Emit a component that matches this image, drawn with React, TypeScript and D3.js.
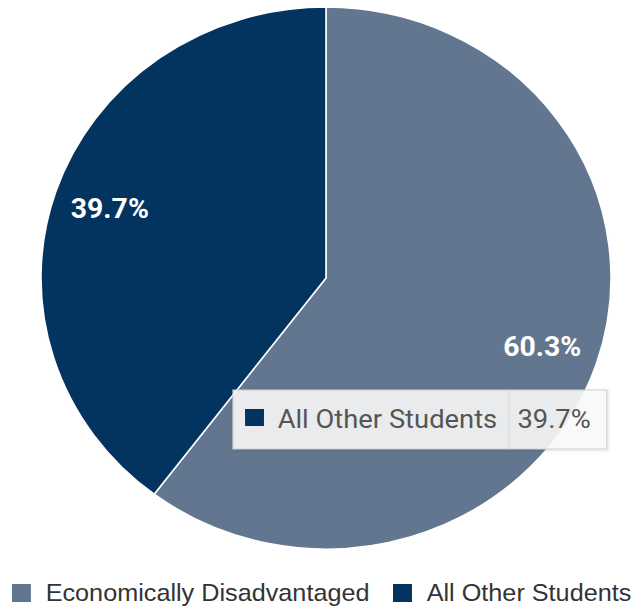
import React from "react";
import * as d3 from "d3";

const categories = ["Economically Disadvantaged", "All Other Students"];
const values = [60.3, 39.7];
const colors = ["#62778f", "#03335f"];
const tooltipIndex = 1;

const W = 633;
const H = 608;
const SX = 1.0517;
const cx = 326 / SX;
const cy = 278;
const R = 271;

export default function App() {
  const pie = d3.pie<number>().sort(null).value((d) => d)(values);
  const arc = d3.arc<d3.PieArcDatum<number>>().innerRadius(0).outerRadius(R);
  const labelArc = d3.arc<d3.PieArcDatum<number>>().innerRadius(R * 0.8).outerRadius(R * 0.8);
  const fmt = (v: number) => v.toFixed(1) + "%";

  const tt = { x: 221.5, y: 390, w: 355.5, h: 59, div: 484 };

  return (
    <svg width={W} height={H} style={{ position: "absolute", left: 0, top: 0 }}>
      <defs>
        <filter id="sh" x="-10%" y="-20%" width="120%" height="150%">
          <feDropShadow dx="1" dy="1" stdDeviation="1.5" floodColor="#000" floodOpacity="0.15" />
        </filter>
      </defs>
      <g transform={`scale(${SX},1)`}>
        <g transform={`translate(${cx},${cy})`}>
          {pie.map((d, i) => (
            <path key={i} d={arc(d) || ""} fill={colors[i]} stroke="#fff" strokeWidth={1.5} />
          ))}
          {pie.map((d, i) => {
            const [x, y] = labelArc.centroid(d);
            return (
              <text
                key={"l" + i}
                x={x}
                y={y}
                textAnchor="middle"
                dominantBaseline="central"
                fill="#fff"
                fontFamily="Roboto, sans-serif"
                fontWeight="bold"
                fontSize={27}
              >
                {fmt(values[i])}
              </text>
            );
          })}
        </g>
        <g filter="url(#sh)">
          <rect x={tt.x} y={tt.y} width={tt.w} height={tt.h} fill="rgba(250,250,250,0.88)" stroke="#d0d0d0" strokeWidth={1} />
        </g>
        <line x1={tt.div} x2={tt.div} y1={tt.y} y2={tt.y + tt.h} stroke="#d8d8d8" strokeWidth={1} />
        <rect x={233} y={409} width={18} height={17} fill={colors[tooltipIndex]} />
        <text x={264} y={419} dominantBaseline="central" fontFamily="Roboto, sans-serif" fontSize={26} fill="#555">
          {categories[tooltipIndex]}
        </text>
        <text x={492} y={419} dominantBaseline="central" fontFamily="Roboto, sans-serif" fontSize={26} fill="#555">
          {fmt(values[tooltipIndex])}
        </text>
        {categories.map((c, i) => {
          const x0 = i === 0 ? 11.4 : 373.7;
          return (
            <g key={"lg" + i}>
              <rect x={x0} y={584} width={18} height={18} fill={colors[i]} />
              <text x={x0 + 32} y={593} dominantBaseline="central" fontFamily="'Liberation Sans', Arial, sans-serif" fontSize={24} fill="#333">
                {c}
              </text>
            </g>
          );
        })}
      </g>
    </svg>
  );
}
